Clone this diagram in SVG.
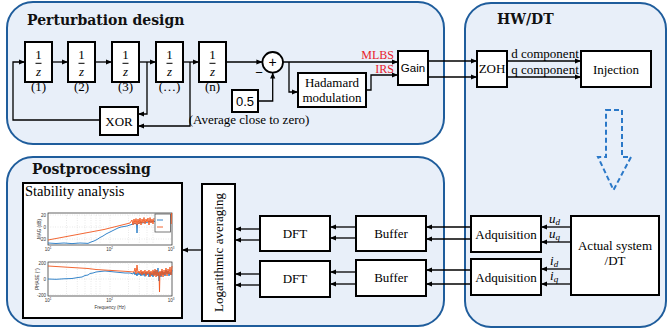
<svg xmlns="http://www.w3.org/2000/svg" width="668" height="330" viewBox="0 0 668 330">
<defs>
<marker id="ah" markerUnits="userSpaceOnUse" markerWidth="6" markerHeight="6" refX="6" refY="3" orient="auto">
<path d="M0,0.4 L6,3 L0,5.6 z" fill="#000"/>
</marker>
<style>
.panel{fill:#e8eff9;stroke:#1f5d9c;stroke-width:2}
.box{fill:#fff;stroke:#000;stroke-width:2}
.t{font-family:"Liberation Serif",serif;font-size:13px;text-anchor:middle;fill:#000}
.ti{font-family:"Liberation Serif",serif;font-style:italic;fill:#000}
.s{font-family:"Liberation Sans",sans-serif;text-anchor:middle;fill:#000}
.title{font-family:"DejaVu Serif",serif;font-weight:bold;font-size:14px;fill:#111}
.red{font-family:"Liberation Serif",serif;font-size:12px;fill:#e8202a;text-anchor:end}
.c{fill:none;stroke:#000;stroke-width:1.3}
.ca{fill:none;stroke:#000;stroke-width:1.3;marker-end:url(#ah)}
.ax{fill:#fff;stroke:#222;stroke-width:0.7}
.grid{stroke:#bbb;stroke-width:0.4;stroke-dasharray:0.8 1.6}
.pt{font-family:"Liberation Sans",sans-serif;font-size:4.5px;fill:#333}
.bl{fill:none;stroke:#1f77c4;stroke-width:0.9}
.or{fill:none;stroke:#f0561d;stroke-width:0.9}
</style>
</defs>

<g id="panels">
<rect class="panel" x="7" y="2" width="437" height="142" rx="26"/>
<rect class="panel" x="7" y="157" width="437" height="169" rx="26"/>
<rect class="panel" x="465" y="3" width="201" height="324" rx="26"/>
<text class="title" x="27" y="25">Perturbation design</text>
<text class="title" x="497" y="24">HW/DT</text>
<text class="title" x="32" y="174">Postprocessing</text>
</g>

<g id="delay1"><rect class="box" x="25" y="42" width="27" height="40"/>
<text class="t" x="38.5" y="59">1</text><line x1="35.5" y1="63.3" x2="41.5" y2="63.3" stroke="#000" stroke-width="1"/>
<text class="ti" x="38.5" y="76" font-size="13" text-anchor="middle">z</text>
<text class="t" x="38.5" y="91" font-size="11">(1)</text></g>
<g id="delay2"><rect class="box" x="68" y="42" width="27" height="40"/>
<text class="t" x="81.5" y="59">1</text><line x1="78.5" y1="63.3" x2="84.5" y2="63.3" stroke="#000" stroke-width="1"/>
<text class="ti" x="81.5" y="76" font-size="13" text-anchor="middle">z</text>
<text class="t" x="81.5" y="91" font-size="11">(2)</text></g>
<g id="delay3"><rect class="box" x="112" y="42" width="27" height="40"/>
<text class="t" x="125.5" y="59">1</text><line x1="122.5" y1="63.3" x2="128.5" y2="63.3" stroke="#000" stroke-width="1"/>
<text class="ti" x="125.5" y="76" font-size="13" text-anchor="middle">z</text>
<text class="t" x="125.5" y="91" font-size="11">(3)</text></g>
<g id="delay4"><rect class="box" x="156" y="42" width="27" height="40"/>
<text class="t" x="169.5" y="59">1</text><line x1="166.5" y1="63.3" x2="172.5" y2="63.3" stroke="#000" stroke-width="1"/>
<text class="ti" x="169.5" y="76" font-size="13" text-anchor="middle">z</text>
<text class="t" x="169.5" y="91" font-size="11">(…)</text></g>
<g id="delay5"><rect class="box" x="199" y="42" width="27" height="40"/>
<text class="t" x="212.5" y="59">1</text><line x1="209.5" y1="63.3" x2="215.5" y2="63.3" stroke="#000" stroke-width="1"/>
<text class="ti" x="212.5" y="76" font-size="13" text-anchor="middle">z</text>
<text class="t" x="212.5" y="91" font-size="11">(n)</text></g>

<g id="xor"><rect class="box" x="100" y="107" width="38" height="28"/>
<text class="t" x="119" y="126">XOR</text></g>

<g id="sum"><circle cx="272.7" cy="62.3" r="10.3" fill="#fff" stroke="#000" stroke-width="1.8"/>
<text class="s" x="272.7" y="67" font-size="14">+</text>
<text class="s" x="259" y="77" font-size="13">−</text></g>

<g id="const"><rect class="box" x="232" y="90" width="26" height="22"/>
<text class="s" x="245" y="106" font-size="13">0.5</text>
<text class="t" x="249" y="124" font-size="12">(Average close to zero)</text></g>

<g id="hadamard"><rect class="box" x="298" y="73" width="68" height="34"/>
<text class="t" x="332" y="87" font-size="12.5">Hadamard</text>
<text class="t" x="332" y="102" font-size="12.5">modulation</text></g>

<g id="gain"><rect class="box" x="398" y="51" width="30" height="34"/>
<text class="s" x="413" y="72" font-size="11.5">Gain</text></g>

<g id="labels-red"><text class="red" x="394" y="59">MLBS</text><text class="red" x="394" y="73">IRS</text></g>

<g id="zoh"><rect class="box" x="477" y="51" width="30" height="36"/>
<text class="t" x="492" y="73" font-size="12">ZOH</text></g>

<g id="injection"><rect class="box" x="581" y="51" width="70" height="36"/>
<text class="t" x="616" y="74">Injection</text></g>

<g id="dq-labels"><text class="t" x="545" y="58" font-size="12.5">d component</text>
<text class="t" x="545" y="74" font-size="12.5">q component</text></g>

<g id="blockarrow"><path d="M606,110 H622 V157 H631 L613.5,190 L598,157 H606 Z" fill="none" stroke="#2a78c8" stroke-width="2" stroke-dasharray="5 3"/></g>

<g id="actual"><rect class="box" x="571" y="216" width="88" height="79"/>
<text class="t" x="615" y="250" font-size="13.5">Actual system</text>
<text class="t" x="615" y="265" font-size="13.5">/DT</text></g>

<g id="adq1"><rect class="box" x="471" y="216" width="70" height="36"/>
<text class="t" x="506" y="239" font-size="13.5">Adquisition</text></g>
<g id="adq2"><rect class="box" x="471" y="259" width="70" height="36"/>
<text class="t" x="506" y="282" font-size="13.5">Adquisition</text></g>

<g id="sig-labels">
<text class="ti" x="549" y="223" font-size="13">u<tspan font-size="9" dy="2">d</tspan></text>
<text class="ti" x="549" y="238" font-size="13">u<tspan font-size="9" dy="2">q</tspan></text>
<text class="ti" x="550" y="265" font-size="13">i<tspan font-size="9" dy="2">d</tspan></text>
<text class="ti" x="550" y="280" font-size="13">i<tspan font-size="9" dy="2">q</tspan></text>
</g>

<g id="buffer1"><rect class="box" x="356" y="216" width="70" height="35"/>
<text class="t" x="391" y="238">Buffer</text></g>
<g id="buffer2"><rect class="box" x="356" y="260" width="70" height="36"/>
<text class="t" x="391" y="282">Buffer</text></g>
<g id="dft1"><rect class="box" x="260" y="216" width="70" height="35"/>
<text class="t" x="295" y="238">DFT</text></g>
<g id="dft2"><rect class="box" x="260" y="261" width="70" height="36"/>
<text class="t" x="295" y="283">DFT</text></g>

<g id="logavg"><rect class="box" x="202" y="184" width="33" height="137"/>
<text class="t" transform="translate(223,252.5) rotate(-90)" font-size="13">Logarithmic averaging</text></g>

<g id="stability"><rect class="box" x="23" y="183" width="159" height="135"/>
<text x="25" y="196" font-family="Liberation Serif, serif" font-size="14.5">Stability analysis</text>
<!-- top plot -->
<rect class="ax" x="48" y="213" width="124" height="32"/>
<g class="grid">
<line x1="48" y1="215" x2="172" y2="215"/><line x1="48" y1="227" x2="172" y2="227"/><line x1="48" y1="239" x2="172" y2="239"/>
<line x1="66.5" y1="213" x2="66.5" y2="245"/><line x1="77.3" y1="213" x2="77.3" y2="245"/><line x1="85" y1="213" x2="85" y2="245"/><line x1="91" y1="213" x2="91" y2="245"/><line x1="96" y1="213" x2="96" y2="245"/><line x1="100" y1="213" x2="100" y2="245"/><line x1="110" y1="213" x2="110" y2="245"/><line x1="128.5" y1="213" x2="128.5" y2="245"/><line x1="139.3" y1="213" x2="139.3" y2="245"/><line x1="147" y1="213" x2="147" y2="245"/><line x1="153" y1="213" x2="153" y2="245"/>
</g>
<polyline class="bl" points="48,243 56,243.5 64,243 72,243.6 80,243 88,243.4 91,242 94,241 97,239.5 100,237.5 103,236 106,234 109,232.5 112,231 115,229.5 118,228 121,227 124,226.5 127,226 130,225 133,224 135,223.5 136.5,224 137,233 137.5,224 139,223 141,222.5 143,223 145,222 147,222.5 149,221.5 151,222 153,221 155,221.5"/>
<polyline class="or" points="48,240 56,238.5 64,237 72,235.5 80,234 88,232.5 96,231 104,229.5 112,227.5 120,225.5 126,224 130,223 132,220 133,225 134,219 135,224 136,218.5 137,225 138,219 139,224 140,218 141,225 142,219 143,223 144,217.5 145,224 146,219 147,222 148,218 149,225 150,217.5 151,223 152,219 153,224 154,218"/>
<polyline class="or" points="170,218 170.5,214 171,224 171.5,213"/>
<rect x="155" y="214" width="15.5" height="18" fill="#fff" stroke="#555" stroke-width="0.8"/>
<line x1="157" y1="220" x2="163" y2="220" stroke="#1f77c4" stroke-width="0.9"/>
<line x1="157" y1="227" x2="163" y2="227" stroke="#f0561d" stroke-width="0.9"/>
<text class="pt" x="46" y="216.5" text-anchor="end">20</text>
<text class="pt" x="46" y="228.5" text-anchor="end">0</text>
<text class="pt" x="46" y="240.5" text-anchor="end">-20</text>
<text class="pt" transform="translate(41,229) rotate(-90)" text-anchor="middle">MAG (dB)</text>
<text class="pt" x="48" y="251" text-anchor="middle">10<tspan font-size="3" dy="-2">1</tspan></text>
<text class="pt" x="109.5" y="251" text-anchor="middle">10<tspan font-size="3" dy="-2">2</tspan></text>
<text class="pt" x="171" y="251" text-anchor="middle">10<tspan font-size="3" dy="-2">3</tspan></text>
<!-- bottom plot -->
<rect class="ax" x="48" y="262" width="124" height="34"/>
<g class="grid">
<line x1="48" y1="263" x2="172" y2="263"/><line x1="48" y1="279" x2="172" y2="279"/><line x1="48" y1="295" x2="172" y2="295"/>
<line x1="66.5" y1="262" x2="66.5" y2="296"/><line x1="77.3" y1="262" x2="77.3" y2="296"/><line x1="85" y1="262" x2="85" y2="296"/><line x1="91" y1="262" x2="91" y2="296"/><line x1="96" y1="262" x2="96" y2="296"/><line x1="100" y1="262" x2="100" y2="296"/><line x1="110" y1="262" x2="110" y2="296"/><line x1="128.5" y1="262" x2="128.5" y2="296"/><line x1="139.3" y1="262" x2="139.3" y2="296"/><line x1="147" y1="262" x2="147" y2="296"/><line x1="153" y1="262" x2="153" y2="296"/>
</g>
<polyline class="bl" points="48,279 56,279.3 64,278.8 72,278.5 78,277.5 82,277 85,275.5 88,275 90,273.5 93,273 96,272 100,271.5 105,271 110,271.5 115,272 120,272.5 125,273 130,273 133,274 134,272 135,275 136,273 137,276 138,272.5 139,275 140,273 141,276 142,272 143,275.5 144,273 145,276.5 146,272 147,275 148,273 149,277 150,272 151,276 152,273 153,277 154,271 155,275 156,270 157,276 158,268 159,281 160,272 161,277 162,271 163,275 164,272 165,276 166,270 167,274 168,271 169,276 170,272 171,275 172,270"/>
<polyline class="or" points="48,266 56,266.5 64,267 72,267.5 80,268 88,268.5 96,269.5 104,270 112,270.5 120,271 128,271.5 134,272 135,268 136,274 137,265 138,273 139,271 140,274 141,270 142,275 143,271 144,274 145,270 146,276 147,271 148,274 149,270 150,277 151,271 152,275 153,270 154,276 155,269 156,277 157,270 158,276 159,272 159.5,292 160,271 161,276 162,269 163,277 164,270 165,275 166,268 167,276 168,269 169,274 170,267 171,275 172,266"/>
<text class="pt" x="46" y="264.5" text-anchor="end">200</text>
<text class="pt" x="46" y="280.5" text-anchor="end">0</text>
<text class="pt" x="46" y="296.5" text-anchor="end">-200</text>
<text class="pt" transform="translate(39,279) rotate(-90)" text-anchor="middle">PHASE (°)</text>
<text class="pt" x="48" y="302" text-anchor="middle">10<tspan font-size="3" dy="-2">1</tspan></text>
<text class="pt" x="109.5" y="302" text-anchor="middle">10<tspan font-size="3" dy="-2">2</tspan></text>
<text class="pt" x="171" y="302" text-anchor="middle">10<tspan font-size="3" dy="-2">3</tspan></text>
<text class="pt" x="110" y="309" text-anchor="middle">Frequency (Hz)</text>
</g>

<g id="connectors">
<path class="ca" d="M100,120 H13 V62 H25"/>
<path class="ca" d="M52,62 H68"/>
<path class="ca" d="M95,62 H112"/>
<path class="ca" d="M139,62 H156"/>
<path class="ca" d="M183,62 H199"/>
<path class="ca" d="M226,62 H262.4"/>
<path class="ca" d="M147,62 V114 H138"/>
<path class="ca" d="M190,62 V126 H138"/>
<path class="ca" d="M258,101 H272.7 V72.6"/>
<path class="ca" d="M283,62 H398"/>
<path class="ca" d="M289,62 V92 H298"/>
<path class="ca" d="M366,90 H371 V75 H398"/>
<path class="ca" d="M428,61 H477"/>
<path class="ca" d="M428,77 H477"/>
<path class="ca" d="M507,61 H581"/>
<path class="ca" d="M507,77 H581"/>
<path class="ca" d="M571,227 H541"/>
<path class="ca" d="M571,242 H541"/>
<path class="ca" d="M571,269 H541"/>
<path class="ca" d="M571,284 H541"/>
<path class="ca" d="M471,227 H426"/>
<path class="ca" d="M471,239 H426"/>
<path class="ca" d="M471,270 H426"/>
<path class="ca" d="M471,284 H426"/>
<path class="ca" d="M356,227 H330"/>
<path class="ca" d="M356,238 H330"/>
<path class="ca" d="M356,272 H330"/>
<path class="ca" d="M356,284 H330"/>
<path class="ca" d="M260,229 H235"/>
<path class="ca" d="M260,240 H235"/>
<path class="ca" d="M260,274 H235"/>
<path class="ca" d="M260,285 H235"/>
<path class="ca" d="M202,250 H182"/>
</g>
</svg>
